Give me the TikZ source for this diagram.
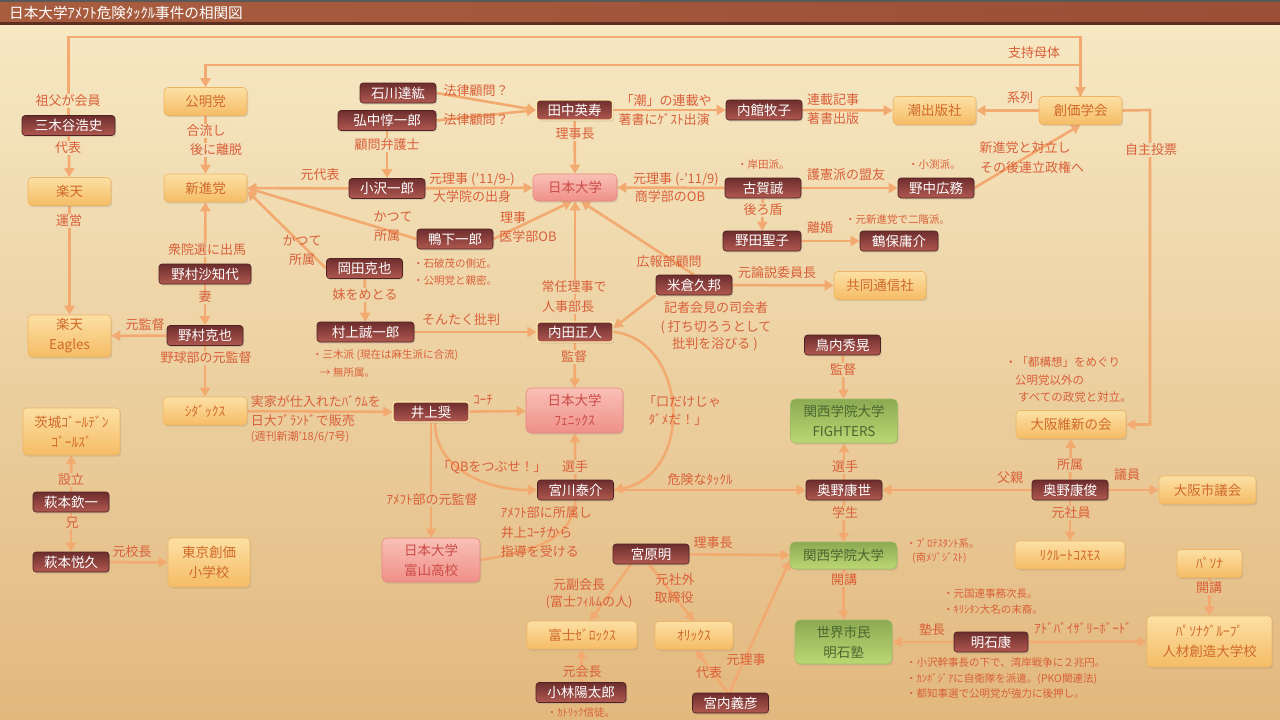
\documentclass[tikz,border=0pt]{standalone}
\usepackage{fontspec}
\setmainfont{Noto Sans CJK JP}
\usetikzlibrary{arrows.meta,shadows}
\definecolor{bgT}{HTML}{F7EAC6}
\definecolor{bgB}{HTML}{E2B87E}
\definecolor{edgec}{HTML}{F2AA70}
\definecolor{labc}{HTML}{D9603A}
\definecolor{ptop}{HTML}{6E2E2E}
\definecolor{pbot}{HTML}{B0584F}
\definecolor{pbord}{HTML}{4E2222}
\definecolor{hlbord}{HTML}{FFE9A8}
\definecolor{otop}{HTML}{FCE0A4}
\definecolor{obot}{HTML}{F5BC66}
\definecolor{obord}{HTML}{EDB466}
\definecolor{otext}{HTML}{D06A2A}
\definecolor{ktop}{HTML}{F9C0B6}
\definecolor{kbot}{HTML}{EF9088}
\definecolor{kbord}{HTML}{E48880}
\definecolor{ktext}{HTML}{CC4C48}
\definecolor{gtop}{HTML}{8CAA52}
\definecolor{gbot}{HTML}{BCD874}
\definecolor{gbord}{HTML}{9CBC64}
\definecolor{gtext}{HTML}{4C6630}
\definecolor{titleL}{HTML}{A95D3F}
\definecolor{titleR}{HTML}{9A4F36}
\pgfdeclarelayer{bglayer}
\pgfdeclarelayer{edgelayer}
\pgfsetlayers{bglayer,edgelayer,main}
\newcommand\fs[1]{\fontsize{#1}{#1}\selectfont}
\newcommand\lab[4]{\pgfmathtruncatemacro\lpct{100-(#3)/7.2}\node[lbl,fill=bgT!\lpct!bgB] (#1) at (#2,#3) {#4};}
\tikzset{
  nbase/.style={align=center, inner sep=1pt, font=\fontsize{13.5}{20}\selectfont,
    drop shadow={opacity=0.22, shadow xshift=1.2pt, shadow yshift=-1.6pt}},
  person/.style={nbase, draw=pbord, line width=0.6pt, rounded corners=3pt,
    top color=ptop, bottom color=pbot, text=white, minimum width=76pt, minimum height=20pt},
  hl/.style={draw=hlbord, line width=1.2pt},
  org/.style={nbase, draw=obord, line width=0.6pt, rounded corners=4pt,
    top color=otop, bottom color=obot, text=otext, minimum width=83pt, minimum height=28pt},
  pnk/.style={nbase, draw=kbord, line width=0.6pt, rounded corners=5pt,
    top color=ktop, bottom color=kbot, text=ktext, minimum width=84pt, minimum height=27pt},
  grn/.style={nbase, draw=gbord, line width=0.6pt, rounded corners=5pt,
    top color=gtop, bottom color=gbot, text=gtext, minimum width=107pt, minimum height=27pt},
  conn/.style={draw=edgec, line width=2.6pt, -{Triangle[length=9pt,width=10pt]}},
  plainconn/.style={draw=edgec, line width=2.6pt},
  lbl/.style={text=labc, font=\fs{13}, inner sep=0.6pt},
  note/.style={text=labc, font=\fs{10.5}, inner sep=0pt, anchor=west},
}
\begin{document}
\begin{tikzpicture}[x=1pt,y=-1pt]
\useasboundingbox (0,0) rectangle (1280,720);
\begin{pgfonlayer}{bglayer}
\shade[top color=bgT, bottom color=bgB] (0,0) rectangle (1280,720);
\shade[left color=titleL, right color=titleR] (0,0) rectangle (1280,23);
\fill[black!65] (0,0) rectangle (1280,1.5);
\fill[black!40!titleR] (0,22) rectangle (1280,24.5);
\end{pgfonlayer}
\node[anchor=west, text=white, font=\fs{14.6}, inner sep=0pt] (title) at (9,12.5) {日本大学ｱﾒﾌﾄ危険ﾀｯｸﾙ事件の相関図};

% persons
\node[person, minimum width=93pt] (mikitani) at (68.5,125.5) {三木谷浩史};
\node[person] (ishikawa) at (398,93) {石川達紘};
\node[person, minimum width=98pt] (hironaka) at (387,120.5) {弘中惇一郎};
\node[person, hl] (tanaka) at (574.5,110) {田中英寿};
\node[person] (uchidate) at (764,110) {内館牧子};
\node[person] (ozawa) at (387,188.5) {小沢一郎};
\node[person] (koga) at (763,188) {古賀誠};
\node[person] (nonaka) at (936,188) {野中広務};
\node[person] (kamoshita) at (455,239) {鴨下一郎};
\node[person, minimum width=78pt] (noda) at (762,241) {野田聖子};
\node[person, minimum width=78pt] (tsuruho) at (899,241) {鶴保庸介};
\node[person, minimum width=92pt] (sachiyo) at (205,274) {野村沙知代};
\node[person] (okada) at (364.5,268.5) {岡田克也};
\node[person] (yonekura) at (694,285) {米倉久邦};
\node[person] (katsuya) at (205,335.5) {野村克也};
\node[person, minimum width=97pt] (murakami) at (365.5,332) {村上誠一郎};
\node[person, hl] (uchida) at (575,332) {内田正人};
\node[person] (toriuchi) at (842.5,345) {鳥内秀晃};
\node[person, hl] (inoue) at (431,412) {井上奨};
\node[person] (miyagawa) at (575.5,490) {宮川泰介};
\node[person] (okunoY) at (844,490) {奥野康世};
\node[person] (okunoT) at (1070,490) {奥野康俊};
\node[person] (hagiK) at (71,502) {萩本欽一};
\node[person] (hagiE) at (71,562) {萩本悦久};
\node[person] (miyahara) at (651,554) {宮原明};
\node[person, minimum width=90pt] (kobayashi) at (581,692.5) {小林陽太郎};
\node[person, minimum width=74pt] (akashi) at (991,642) {明石康};
\node[person] (miyauchi) at (730.5,703) {宮内義彦};

% organisations
\node[org] (komei) at (205.5,101.5) {公明党};
\node[org] (rakuten) at (69.5,191.5) {楽天};
\node[org] (shinshin) at (205.5,188) {新進党};
\node[org] (ushio) at (934.5,110.5) {潮出版社};
\node[org] (soka) at (1080.5,110.5) {創価学会};
\node[org, minimum width=92pt] (kyodo) at (880,285.5) {共同通信社};
\node[org, minimum height=42pt] (eagles) at (69.5,336) {楽天\\Eagles};
\node[org, minimum width=84pt] (shidax) at (205,411) {ｼﾀﾞｯｸｽ};
\node[org, minimum width=97pt, minimum height=47pt] (ibaraki) at (71.5,431.5) {茨城ｺﾞｰﾙﾃﾞﾝ\\ｺﾞｰﾙｽﾞ};
\node[org, minimum width=110pt] (ishin) at (1071,424.5) {大阪維新の会};
\node[org, minimum width=97pt] (osakashi) at (1207.5,490) {大阪市議会};
\node[org, minimum width=110pt] (recruit) at (1070,555) {ﾘｸﾙｰﾄｺｽﾓｽ};
\node[org, minimum width=82pt, minimum height=49pt] (tokyosoka) at (209,562.5) {東京創価\\小学校};
\node[org, minimum width=110pt] (fujix) at (582,635) {富士ｾﾞﾛｯｸｽ};
\node[org, minimum width=78pt] (orix) at (694,635.5) {ｵﾘｯｸｽ};
\node[org, minimum width=65pt] (pasona) at (1209.5,563.5) {ﾊﾟｿﾅ};
\node[org, minimum width=125pt, minimum height=51pt] (pasonaU) at (1209.5,641.5) {ﾊﾟｿﾅｸﾞﾙｰﾌﾟ\\人材創造大学校};

% pink
\node[pnk] (nichidai) at (575,187.5) {日本大学};
\node[pnk, minimum width=97pt, minimum height=45pt] (phoenix) at (574.5,410.5) {日本大学\\ﾌｪﾆｯｸｽ};
\node[pnk, minimum width=98pt, minimum height=44pt] (toyama) at (431,560) {日本大学\\富山高校};

% green
\node[grn, minimum height=44pt] (fighters) at (844,421) {関西学院大学\\FIGHTERS};
\node[grn] (kgu) at (843.5,555.5) {関西学院大学};
\node[grn, minimum width=97pt, minimum height=44pt] (juku) at (843.5,642) {世界市民\\明石塾};

% connectors
\begin{pgfonlayer}{edgelayer}
\coordinate (topA) at (600,37);
\coordinate (topB) at (600,65);
\coordinate (jishu) at (1150,110);
\draw[conn] (mikitani.north) |- (topA) -| (soka.north);
\draw[conn] (soka.north) |- (topB) -| (komei.north);
\draw[conn] (mikitani) -- (rakuten);
\draw[conn] (rakuten) -- (eagles);
\draw[conn] (komei) -- (shinshin);
\draw[conn] (sachiyo) -- (shinshin);
\draw[conn] (sachiyo) -- (katsuya);
\draw[conn] (katsuya) -- (eagles);
\draw[conn] (katsuya) -- (shidax);
\draw[conn] (shidax) -- (inoue);
\draw[conn] (inoue) -- (phoenix);
\draw[conn] (inoue) -- (toyama);
\draw[conn] ([xshift=4pt]inoue.south) to[out=-90,in=180] (miyagawa.west);
\draw[conn] (miyagawa) -- (phoenix);
\draw[conn] (uchida.east) .. controls (688,340) and (695,475) .. (miyagawa.east);
\draw[conn] (yonekura.south west) -- ([yshift=4pt]uchida.east);
\draw[conn] (yonekura.north) -- ([xshift=6pt]nichidai.south);
\draw[conn] (tanaka) -- (nichidai);
\draw[conn] (ozawa) -- (nichidai);
\draw[conn] (koga) -- (nichidai);
\draw[conn] (kamoshita.east) -- ([xshift=-3pt]nichidai.south);
\draw[conn] (uchida) -- (nichidai);
\draw[conn] (ishikawa.east) -- (tanaka.west);
\draw[conn] (hironaka.east) -- (tanaka.west);
\draw[conn] (hironaka) -- (ozawa);
\draw[conn] (ozawa) -- (shinshin);
\draw[conn] (kamoshita.west) -- (shinshin.east);
\draw[conn] (okada.west) -- ([yshift=-3pt]shinshin.east);
\draw[conn] (tanaka) -- (uchidate);
\draw[conn] (uchidate) -- (ushio);
\draw[conn] (soka) -- (ushio);
\draw[conn] (soka.east) -- (jishu) |- (ishin.east);
\draw[conn] (koga) -- (nonaka);
\draw[conn] (nonaka.east) -- (soka.south);
\draw[conn] (koga) -- (noda);
\draw[conn] (noda) -- (tsuruho);
\draw[conn] (yonekura) -- (kyodo);
\draw[conn] (toriuchi) -- (fighters);
\draw[conn] (okunoY) -- (fighters);
\draw[conn] (miyagawa) -- (okunoY);
\draw[conn] (okunoT) -- (okunoY);
\draw[conn] (okunoT) -- (ishin);
\draw[conn] (okunoT) -- (osakashi);
\draw[conn] (okunoT) -- (recruit);
\draw[conn] (okunoY) -- (kgu);
\draw[conn] (kgu) -- (juku);
\draw[conn] (akashi) -- (juku);
\draw[conn] (akashi) -- (pasonaU);
\draw[conn] (pasona) -- (pasonaU);
\draw[conn] (miyahara) -- (kgu);
\draw[conn] ([xshift=-20pt]miyahara.south) -- ([xshift=8pt]fujix.north);
\draw[conn] ([xshift=-2pt]miyahara.south) -- (orix.north);
\draw[conn] (kobayashi) -- (fujix);
\draw[conn] ([xshift=-3pt]miyauchi.north) -- ([xshift=2pt]orix.south);
\draw[conn] ([xshift=-1pt]miyauchi.north) -- ([yshift=-5pt]kgu.west);
\draw[conn] (hagiK) -- (ibaraki);
\draw[conn] (hagiK) -- (hagiE);
\draw[conn] (hagiE) -- (tokyosoka);
\draw[plainconn] (miyagawa.south) to[out=-95,in=10] (toyama.east);
\draw[conn] (okada) -- (murakami);
\draw[conn] (murakami) -- (uchida);
\draw[conn] (uchida) -- (phoenix);
\end{pgfonlayer}

% labels sitting on connectors
\lab{l1}{68}{101}{祖父が会員}
\lab{l2}{68}{148}{代表}
\lab{l3}{69}{221}{運営}
\lab{l4}{206}{131}{合流し}
\lab{l5}{216}{150}{後に離脱}
\lab{l6}{387}{145}{顧問弁護士}
\lab{l7}{575}{134}{理事長}
\lab{l8}{207}{250}{衆院選に出馬}
\lab{l9}{205}{297}{妻}
\lab{l10}{206}{358}{野球部の元監督}
\lab{l11}{365}{295}{妹をめとる}
\lab{l12}{574}{287}{常任理事で}
\lab{l13}{568}{307}{人事部長}
\lab{l14}{574}{357}{監督}
\lab{l15}{575}{467}{選手}
\lab{l16}{843}{370}{監督}
\lab{l17}{845}{467}{選手}
\lab{l18}{845}{513}{学生}
\lab{l19}{844}{580}{開講}
\lab{l20}{1070}{465}{所属}
\lab{l21}{1071}{513}{元社員}
\lab{l22}{71}{480}{設立}
\lab{l23}{72}{523}{兄}
\lab{l24}{1209}{588}{開講}
\lab{l25}{582}{672}{元会長}
\lab{l26}{763}{210}{後ろ盾}
\lab{l27}{1151}{150}{自主投票}
\lab{l28}{432}{500}{ｱﾒﾌﾄ部の元監督}

% labels beside connectors
\node[lbl] (m1) at (1034,53) {支持母体};
\node[lbl] (m2) at (1020,98) {系列};
\node[lbl] (m3) at (320,175) {元代表};
\node[lbl] (m4) at (476,91) {法律顧問？};
\node[lbl] (m5) at (476,120) {法律顧問？};
\node[lbl] (m6) at (666,101) {「潮」の連載や};
\node[lbl] (m7) at (664,119) {著書にｹﾞｽﾄ出演};
\node[lbl] (m8) at (833,100) {連載記事};
\node[lbl] (m9) at (833,119) {著書出版};
\node[lbl] (m10) at (1025,148) {新進党と対立し};
\node[lbl] (m11) at (1032,168) {その後連立政権へ};
\node[lbl] (m12) at (472,179) {元理事 ('11/9-)};
\node[lbl] (m13) at (472,197) {大学院の出身};
\node[lbl] (m14) at (676,179) {元理事 (-'11/9)};
\node[lbl] (m15) at (670,197) {商学部のOB};
\node[lbl] (m16) at (846,175) {護憲派の盟友};
\node[lbl] (m17) at (820,228) {離婚};
\node[lbl] (m18) at (393,217) {かつて};
\node[lbl] (m19) at (387,236) {所属};
\node[lbl] (m20) at (302,241) {かつて};
\node[lbl] (m21) at (302,260) {所属};
\node[lbl] (m22) at (513,218) {理事};
\node[lbl] (m23) at (528,237) {医学部OB};
\node[lbl] (m24) at (669,262) {広報部顧問};
\node[lbl] (m25) at (777,273) {元論説委員長};
\node[lbl] (m26) at (716,308) {記者会見の司会者};
\node[lbl] (m27) at (716,327) {( 打ち切ろうとして};
\node[lbl] (m28) at (715,344) {批判を浴びる )};
\node[lbl] (m29) at (145,325) {元監督};
\node[lbl] (m30) at (461,320) {そんたく批判};
\node[lbl] (m31) at (483,400) {ｺｰﾁ};
\node[lbl] (m32) at (682,402) {「口だけじゃ};
\node[lbl] (m33) at (678,420) {ﾀﾞﾒだ！」};
\node[lbl] (m34) at (492,467) {「QBをつぶせ！」};
\node[lbl] (m35) at (700,480) {危険なﾀｯｸﾙ};
\node[lbl] (m36) at (1010,478) {父親};
\node[lbl] (m37) at (1127,475) {議員};
\node[lbl] (m38) at (132,552) {元校長};
\node[lbl] (m39) at (713,543) {理事長};
\node[lbl] (m40) at (579,585) {元副会長};
\node[lbl] (m41) at (589,602) {(富士ﾌｨﾙﾑの人)};
\node[lbl] (m42) at (675,580) {元社外};
\node[lbl] (m43) at (674,598) {取締役};
\node[lbl] (m44) at (932,630) {塾長};
\node[lbl] (m45) at (1083,628) {ｱﾄﾞﾊﾞｲｻﾞﾘｰﾎﾞｰﾄﾞ};
\node[lbl] (m46) at (709,673) {代表};
\node[lbl] (m47) at (746,660) {元理事};
\node[lbl, anchor=west] (m48) at (250,401) {実家が仕入れたﾊﾞｳﾑを};
\node[lbl, anchor=west] (m49) at (250,420) {日大ﾌﾞﾗﾝﾄﾞで販売};
\node[lbl, anchor=west, font=\fs{11}] (m50) at (250,437) {(週刊新潮'18/6/7号)};
\node[lbl, anchor=west] (m51) at (500,513) {ｱﾒﾌﾄ部に所属し};
\node[lbl, anchor=west] (m52) at (500,533) {井上ｺｰﾁから};
\node[lbl, anchor=west] (m53) at (500,552) {指導を受ける};

% notes
\node[note] (n1) at (737,165) {・岸田派。};
\node[note] (n2) at (908,165) {・小渕派。};
\node[note] (n3) at (845,220) {・元新進党で二階派。};
\node[note] (n4) at (413,264) {・石破茂の側近。};
\node[note] (n5) at (413,281) {・公明党と親密。};
\node[note] (n6) at (312,355) {・三木派 (現在は麻生派に合流)};
\node[note] (n7) at (320,373) {→ 無所属。};
\node[note, font=\fs{11.5}] (n8) at (1005,362) {・「都構想」をめぐり};
\node[note, font=\fs{11.5}] (n9) at (1015,380) {公明党以外の};
\node[note, font=\fs{11.5}] (n10) at (1018,397) {すべての政党と対立。};
\node[note] (n11) at (906,543) {・ﾌﾟﾛﾃｽﾀﾝﾄ系。};
\node[note] (n12) at (912,558) {(南ﾒｿﾞｼﾞｽﾄ)};
\node[note] (n13) at (943,594) {・元国連事務次長。};
\node[note] (n14) at (943,609) {・ｷﾘｼﾀﾝ大名の末裔。};
\node[note] (n15) at (906,663) {・小沢幹事長の下で、湾岸戦争に２兆円。};
\node[note] (n16) at (906,679) {・ｶﾝﾎﾞｼﾞｱに自衛隊を派遣。(PKO関連法)};
\node[note] (n17) at (906,694) {・都知事選で公明党が強力に後押し。};
\node[note, anchor=center] (n18) at (581,713) {・ｶﾄﾘｯｸ信徒。};
\end{tikzpicture}
\end{document}
